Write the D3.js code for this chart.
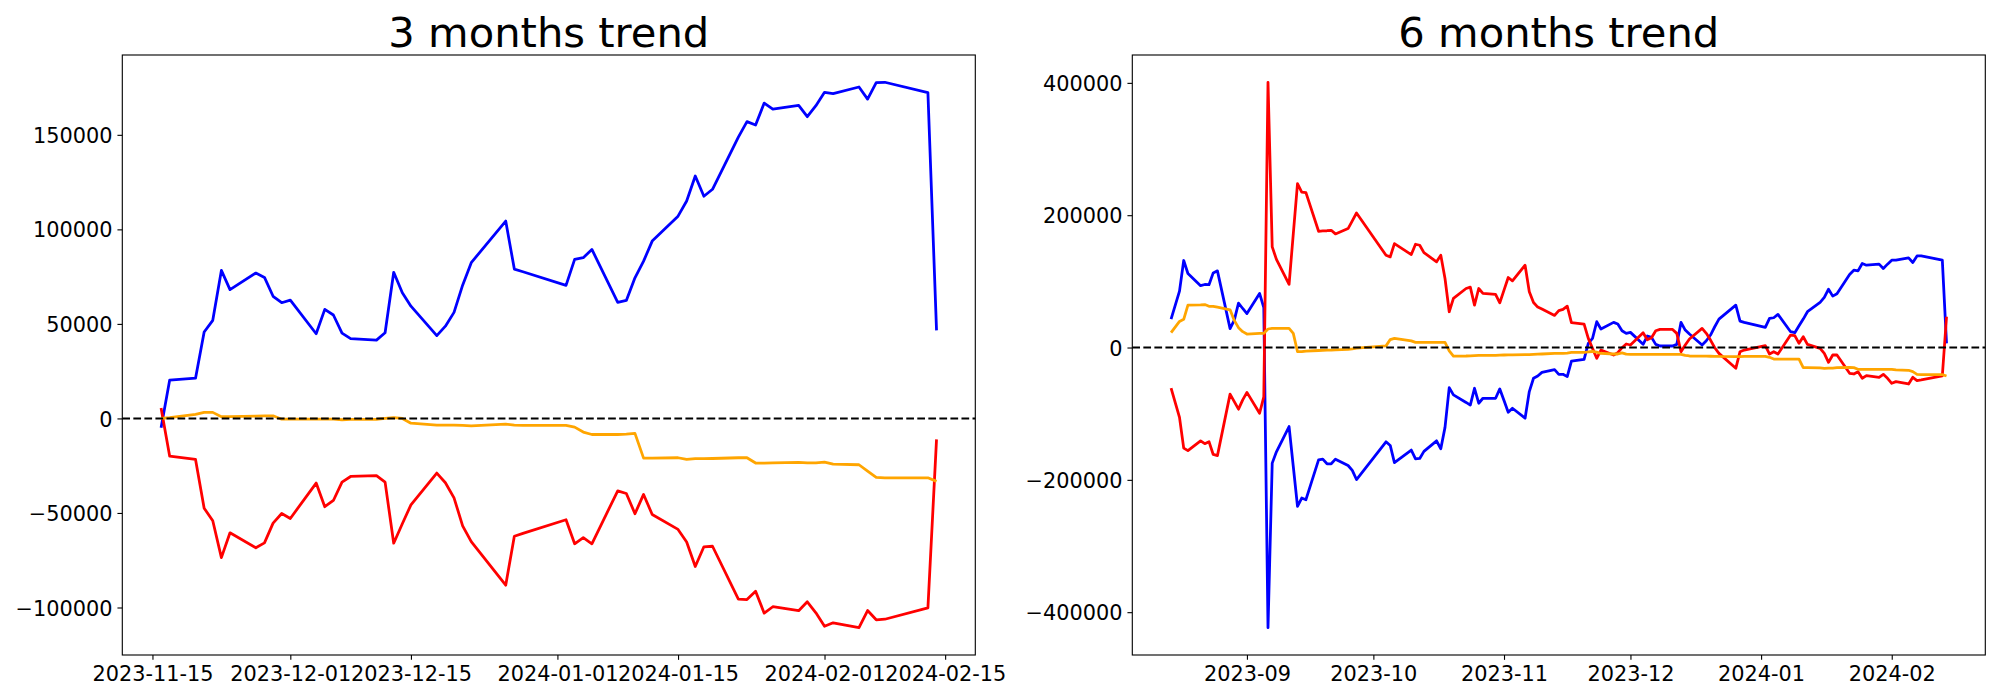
<!DOCTYPE html>
<html><head><meta charset="utf-8">
<script src="https://cdn.jsdelivr.net/npm/d3@7"></script>
<style>body{margin:0;background:#fff}svg{display:block}text{font-family:"DejaVu Sans",sans-serif}</style>
</head><body><svg id="c" width="2000" height="700"></svg>
<script>
// ---- 3 months panel ----
const dates3 = ["2023-11-16","2023-11-17","2023-11-20","2023-11-21","2023-11-22","2023-11-23","2023-11-24","2023-11-27","2023-11-28","2023-11-29","2023-11-30","2023-12-01","2023-12-04","2023-12-05","2023-12-06","2023-12-07","2023-12-08","2023-12-11","2023-12-12","2023-12-13","2023-12-14","2023-12-15","2023-12-18","2023-12-19","2023-12-20","2023-12-21","2023-12-22","2023-12-26","2023-12-27","2023-12-28","2024-01-02","2024-01-03","2024-01-04","2024-01-05","2024-01-08","2024-01-09","2024-01-10","2024-01-11","2024-01-12","2024-01-15","2024-01-16","2024-01-17","2024-01-18","2024-01-19","2024-01-22","2024-01-23","2024-01-24","2024-01-25","2024-01-26","2024-01-29","2024-01-30","2024-01-31","2024-02-01","2024-02-02","2024-02-05","2024-02-06","2024-02-07","2024-02-08","2024-02-13","2024-02-14"];
const blue3 = [-4900,20300,21300,45700,51900,78300,68100,76900,74600,64600,61200,62600,44800,57700,54700,45100,42200,41400,45300,77300,66500,59400,43800,48800,56100,70500,82400,104400,79000,77600,70400,84100,85000,89400,61400,62400,74400,83200,93800,107000,115000,128200,117500,121200,148800,157000,155200,166800,163600,165600,159600,165400,172500,171800,175300,168900,177600,177800,172300,46600];
const red3 = [5500,-20000,-21700,-47500,-54100,-73600,-60500,-68400,-65800,-55400,-50300,-52900,-34200,-46700,-43400,-33700,-30700,-30200,-33700,-66000,-55700,-45700,-28900,-34000,-42000,-56800,-65200,-88200,-62300,-60800,-53600,-66300,-63100,-66300,-38300,-39700,-50400,-40200,-50800,-58700,-65400,-78300,-67900,-67600,-95600,-95800,-91400,-103000,-99600,-101700,-97000,-102800,-109900,-108100,-110700,-101600,-106500,-106200,-100200,-11100];
const orange3 = [0,400,2100,3200,3200,900,900,1200,1400,1400,-400,-400,-400,-400,-400,-700,-500,-500,0,400,0,-2500,-3500,-3500,-3500,-3700,-3900,-3000,-3500,-3700,-3700,-4600,-7200,-8500,-8500,-8300,-7900,-21000,-21000,-20800,-21700,-21300,-21300,-21200,-20800,-20800,-23600,-23600,-23500,-23300,-23500,-23500,-23100,-24200,-24500,-27900,-31200,-31400,-31400,-33300];
const xTicks3 = ["2023-11-15","2023-12-01","2023-12-15","2024-01-01","2024-01-15","2024-02-01","2024-02-15"];
const yTicks3 = [-100000,-50000,0,50000,100000,150000];

// ---- 6 months panel ----
const dates6 = ["2023-08-14","2023-08-16","2023-08-17","2023-08-18","2023-08-21","2023-08-22","2023-08-23","2023-08-24","2023-08-25","2023-08-28","2023-08-29","2023-08-30","2023-08-31","2023-09-01","2023-09-04","2023-09-05","2023-09-06","2023-09-07","2023-09-08","2023-09-11","2023-09-12","2023-09-13","2023-09-14","2023-09-15","2023-09-18","2023-09-19","2023-09-20","2023-09-21","2023-09-22","2023-09-25","2023-09-26","2023-09-27","2023-10-04","2023-10-05","2023-10-06","2023-10-10","2023-10-11","2023-10-12","2023-10-13","2023-10-16","2023-10-17","2023-10-18","2023-10-19","2023-10-20","2023-10-23","2023-10-24","2023-10-25","2023-10-26","2023-10-27","2023-10-30","2023-10-31","2023-11-01","2023-11-02","2023-11-03","2023-11-06","2023-11-07","2023-11-08","2023-11-09","2023-11-10","2023-11-13","2023-11-14","2023-11-15","2023-11-16","2023-11-17","2023-11-20","2023-11-21","2023-11-22","2023-11-23","2023-11-24","2023-11-27","2023-11-28","2023-11-29","2023-11-30","2023-12-01","2023-12-04","2023-12-05","2023-12-06","2023-12-07","2023-12-08","2023-12-11","2023-12-12","2023-12-13","2023-12-14","2023-12-15","2023-12-18","2023-12-19","2023-12-20","2023-12-21","2023-12-22","2023-12-26","2023-12-27","2023-12-28","2024-01-02","2024-01-03","2024-01-04","2024-01-05","2024-01-08","2024-01-09","2024-01-10","2024-01-11","2024-01-12","2024-01-15","2024-01-16","2024-01-17","2024-01-18","2024-01-19","2024-01-22","2024-01-23","2024-01-24","2024-01-25","2024-01-26","2024-01-29","2024-01-30","2024-01-31","2024-02-01","2024-02-02","2024-02-05","2024-02-06","2024-02-07","2024-02-08","2024-02-13","2024-02-14"];
const blue6 = [43000,85200,131500,111900,93500,95300,95000,112800,115900,28600,41500,67100,59000,51300,81700,60300,-423500,-174700,-157600,-119400,-179800,-240100,-227500,-230000,-169700,-168700,-175700,-175700,-168700,-178300,-185800,-199500,-142500,-148000,-174000,-155000,-168200,-167700,-157000,-141000,-153100,-120700,-60600,-71600,-83000,-87000,-61600,-84200,-76700,-76700,-62600,-80200,-97800,-91800,-106800,-66600,-46500,-43000,-37500,-33400,-40500,-40500,-44000,-20400,-17900,6300,13800,39000,27900,38000,35500,25400,21400,22900,4800,17400,15300,4800,2300,2300,4800,38000,26400,20400,3800,10300,18900,31400,43000,64100,40000,38000,30400,44000,45000,50000,23900,22400,32900,43000,54100,68100,75700,88200,77700,81200,110400,116900,115900,127000,124400,126000,119400,126000,132000,132000,135500,128500,138500,138500,132000,6300];
const red6 = [-61500,-105500,-152000,-155900,-141000,-145300,-142300,-161600,-163400,-70400,-81700,-93200,-79200,-67800,-99300,-74500,400900,152100,133200,95500,171700,247600,235000,234100,175700,176200,176500,177200,171700,179800,191300,203300,139500,137000,157100,140500,156100,154600,143500,129500,139500,104300,54100,74200,89200,91300,64100,89200,81700,80200,67600,86700,105800,100800,124400,84200,68100,61100,58100,48500,55800,57600,62600,37500,35500,13800,-1300,-16300,-3800,-11300,-7800,-300,5300,3800,22400,11800,14800,25400,27400,27400,21400,-6300,3800,12800,28900,21400,11300,-300,-8800,-31400,-6300,-3800,2800,-9800,-6300,-9800,18900,17900,6300,16300,4800,-1300,-8800,-22400,-11300,-11300,-39000,-40000,-36500,-46500,-42500,-45000,-40500,-46500,-54100,-51500,-55100,-45000,-50000,-49000,-43000,46500];
const orange6 = [22400,39500,42700,64100,64600,65000,62300,62300,61000,57000,41000,30000,24000,20400,21400,21400,28000,29000,29000,29000,21400,-6300,-6300,-5300,-4500,-4300,-4000,-3800,-3500,-2800,-2000,-1000,2500,12000,13800,10000,7800,7800,7800,7800,7800,7800,-5000,-13000,-12800,-12500,-12300,-12000,-12000,-11800,-11500,-11300,-11000,-11000,-10800,-10600,-10300,-10000,-9800,-9000,-8800,-8800,-8300,-7500,-7200,-6500,-6000,-7000,-9000,-9800,-9800,-8000,-10000,-10300,-10300,-10300,-10300,-10300,-10300,-10300,-10300,-10500,-12000,-12800,-13000,-13000,-13200,-13300,-13500,-13600,-13700,-13300,-13300,-14800,-17400,-17400,-17400,-17400,-17400,-30400,-30400,-30900,-31400,-31000,-31000,-30500,-30000,-30400,-32900,-32900,-32900,-32900,-32900,-32900,-32900,-33900,-34400,-36500,-40500,-41000,-41000,-43000];
const xTicks6 = ["2023-09","2023-10","2023-11","2023-12","2024-01","2024-02"];
const yTicks6 = [-400000,-200000,0,200000,400000];

const titles = ["3 months trend","6 months trend"];
const seriesColors = ["blue","red","orange"];

const svg = d3.select("#c");
const parseDay = d3.timeParse("%Y-%m-%d");
const parseMonth = d3.timeParse("%Y-%m");
const PT = 100/72;

function panel(box, dates, seriesList, xTickStr, xParse, yTicks, title) {
  const ds = dates.map(parseDay);
  const [t0, t1] = d3.extent(ds);
  const span = t1 - t0;
  const x = d3.scaleTime()
    .domain([new Date(+t0 - span*0.05), new Date(+t1 + span*0.05)])
    .range([box.x0, box.x1]);
  const all = seriesList.flat();
  const lo = d3.min(all), hi = d3.max(all), r = hi - lo;
  const y = d3.scaleLinear().domain([lo - r*0.05, hi + r*0.05]).range([box.y1, box.y0]);
  const g = svg.append("g");

  const line = d3.line().x((d,i)=>x(ds[i])).y(d=>y(d));
  seriesList.forEach((vals, k) => {
    g.append("path").datum(vals).attr("d", line)
      .attr("fill","none").attr("stroke", seriesColors[k])
      .attr("stroke-width", 2*PT).attr("stroke-linejoin","round");
  });
  g.append("line").attr("x1",box.x0).attr("x2",box.x1)
    .attr("y1",y(0)).attr("y2",y(0))
    .attr("stroke","black").attr("stroke-width",1.5*PT)
    .attr("stroke-dasharray",`${3.7*1.5*PT},${1.6*1.5*PT}`);

  g.append("rect").attr("x",box.x0).attr("y",box.y0)
    .attr("width",box.x1-box.x0).attr("height",box.y1-box.y0)
    .attr("fill","none").attr("stroke","black").attr("stroke-width",0.8*PT);

  const xa = d3.axisBottom(x).tickValues(xTickStr.map(xParse))
    .tickFormat((d,i)=>xTickStr[i]).tickSize(3.5*PT).tickPadding(3.5*PT).tickSizeOuter(0);
  const gx = g.append("g").attr("transform",`translate(0,${box.y1})`).call(xa);
  gx.select(".domain").remove();
  gx.selectAll("line").attr("stroke","black").attr("stroke-width",0.8*PT);
  gx.selectAll("text").attr("font-size",15*PT).attr("font-family","DejaVu Sans").attr("fill","black").attr("dy","0.78em");

  const ya = d3.axisLeft(y).tickValues(yTicks).tickFormat(d=>String(d).replace("-","\u2212"))
    .tickSize(3.5*PT).tickPadding(3.5*PT).tickSizeOuter(0);
  const gy = g.append("g").attr("transform",`translate(${box.x0},0)`).call(ya);
  gy.select(".domain").remove();
  gy.selectAll("line").attr("stroke","black").attr("stroke-width",0.8*PT);
  gy.selectAll("text").attr("font-size",15*PT).attr("font-family","DejaVu Sans").attr("fill","black").attr("dy","0.365em");

  g.append("text").attr("x",(box.x0+box.x1)/2).attr("y",box.y0-6*PT)
    .attr("text-anchor","middle").attr("font-size",30*PT).attr("fill","black")
    .text(title);
}

panel({x0:122.3,x1:975.3,y0:55,y1:655}, dates3, [blue3, red3, orange3], xTicks3, parseDay, yTicks3, titles[0]);
panel({x0:1132.3,x1:1985.3,y0:55,y1:655}, dates6, [blue6, red6, orange6], xTicks6, parseMonth, yTicks6, titles[1]);
</script></body></html>
